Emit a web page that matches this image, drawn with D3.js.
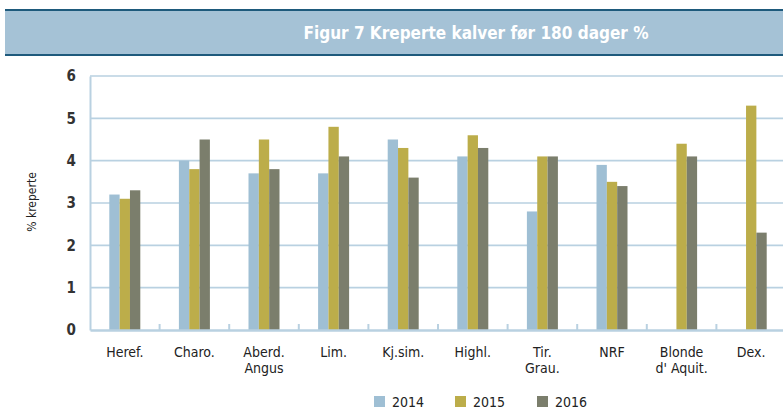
<!DOCTYPE html>
<html>
<head>
<meta charset="utf-8">
<script src="https://cdn.jsdelivr.net/npm/d3@7"></script>
<style>
  body { margin: 0; background: #fff; }
  svg text { font-family: "Liberation Sans Narrow", "DejaVu Sans Condensed", "Roboto", sans-serif; font-stretch: condensed; }
</style>
</head>
<body>
<div id="chart"></div>
<script>
// data
const categories = ["Heref.", "Charo.", "Aberd.\nAngus", "Lim.", "Kj.sim.", "Highl.", "Tir.\nGrau.", "NRF", "Blonde\nd' Aquit.", "Dex."];
const years = ["2014", "2015", "2016"];
const values2014 = [3.2, 4.0, 3.7, 3.7, 4.5, 4.1, 2.8, 3.9, null, null];
const values2015 = [3.1, 3.8, 4.5, 4.8, 4.3, 4.6, 4.1, 3.5, 4.4, 5.3];
const values2016 = [3.3, 4.5, 3.8, 4.1, 3.6, 4.3, 4.1, 3.4, 4.1, 2.3];
const yTicks = [0, 1, 2, 3, 4, 5, 6];

const colors = ["#9fbfd4", "#bcad4a", "#7b7e6c"];
const gridColor = "#b9d1e1";

const W = 783, H = 410;
const svg = d3.select("#chart").append("svg")
  .attr("width", W).attr("height", H);

// header band
svg.append("rect").attr("x", 5).attr("y", 10).attr("width", W).attr("height", 45).attr("fill", "#a5c2d6");
svg.append("line").attr("x1", 5).attr("x2", W).attr("y1", 10).attr("y2", 10).attr("stroke", "#1e5a7c").attr("stroke-width", 2);
svg.append("line").attr("x1", 5).attr("x2", W).attr("y1", 55).attr("y2", 55).attr("stroke", "#1e5a7c").attr("stroke-width", 2);
svg.append("text").attr("x", 476).attr("y", 39)
  .attr("text-anchor", "middle").attr("fill", "#fff")
  .attr("font-size", 17).attr("font-weight", "bold")
  .text("Figur 7 Kreperte kalver før 180 dager %");

const plotLeft = 90, plotRight = 786, plotTop = 76, plotBottom = 330;

const x = d3.scaleBand().domain(categories).range([plotLeft, plotRight]);
const xInner = d3.scaleBand().domain(years).range([x.bandwidth() / 2 - 15.5, x.bandwidth() / 2 + 15.5]);
const y = d3.scaleLinear().domain([0, 6]).range([plotBottom, plotTop]);

// gridlines
svg.append("g").selectAll("line").data(yTicks.filter(d => d > 0)).enter().append("line")
  .attr("x1", plotLeft).attr("x2", plotRight)
  .attr("y1", d => y(d)).attr("y2", d => y(d))
  .attr("stroke", gridColor).attr("stroke-width", 1.6);

// y axis
const yAxis = svg.append("g").attr("transform", `translate(${plotLeft},0)`)
  .call(d3.axisLeft(y).tickValues(yTicks).tickFormat(d3.format("d")).tickSize(0).tickPadding(14));
yAxis.select(".domain").attr("stroke", gridColor).attr("stroke-width", 2);
yAxis.selectAll("text").attr("font-size", 15).attr("font-weight", "bold").attr("fill", "#333");

svg.append("text")
  .attr("transform", `translate(36,202) rotate(-90)`)
  .attr("text-anchor", "middle").attr("font-size", 12).attr("fill", "#222")
  .text("% kreperte");

// bars
const series = [values2014, values2015, values2016];
series.forEach((vals, i) => {
  svg.append("g").selectAll("rect")
    .data(vals.map((v, j) => ({ cat: categories[j], v })).filter(d => d.v !== null))
    .enter().append("rect")
    .attr("x", d => x(d.cat) + xInner(years[i]))
    .attr("width", xInner.bandwidth())
    .attr("y", d => y(d.v))
    .attr("height", d => y(0) - y(d.v))
    .attr("fill", colors[i]);
});

// x axis
const xAxis = svg.append("g").attr("transform", `translate(0,${plotBottom})`)
  .call(d3.axisBottom(x).tickSize(0).tickFormat(""));
xAxis.select(".domain").attr("stroke", gridColor).attr("stroke-width", 2.5);
svg.append("g").selectAll("line").data(categories.slice(1)).enter().append("line")
  .attr("x1", d => x(d)).attr("x2", d => x(d))
  .attr("y1", plotBottom).attr("y2", plotBottom - 6)
  .attr("stroke", gridColor).attr("stroke-width", 2);

// category labels
const labels = svg.append("g").selectAll("text").data(categories).enter().append("text")
  .attr("x", d => x(d) + x.bandwidth() / 2)
  .attr("y", 357)
  .attr("text-anchor", "middle").attr("font-size", 14).attr("fill", "#222");
labels.each(function(d) {
  const t = d3.select(this);
  d.split("\n").forEach((line, k) => {
    t.append("tspan").attr("x", x(d) + x.bandwidth() / 2).attr("dy", k === 0 ? 0 : 16).text(line);
  });
});

// legend
const legendX = [374, 455, 537];
const legend = svg.append("g").selectAll("g").data(years).enter().append("g")
  .attr("transform", (d, i) => `translate(${legendX[i]},396)`);
legend.append("rect").attr("width", 11).attr("height", 11).attr("fill", (d, i) => colors[i]);
legend.append("text").attr("x", 18).attr("y", 11).attr("font-size", 14).attr("fill", "#222").text(d => d);
</script>
</body>
</html>
